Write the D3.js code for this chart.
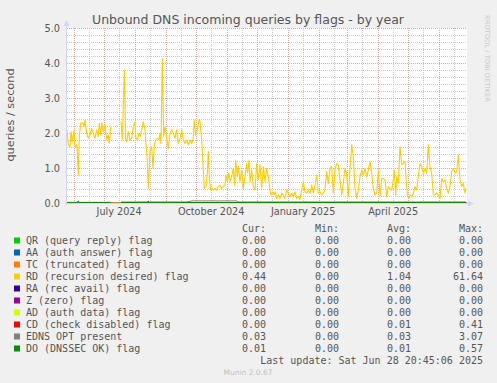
<!DOCTYPE html>
<html>
<head>
<meta charset="utf-8">
<script src="https://cdn.jsdelivr.net/npm/d3@7"></script>
<style>
  body { margin: 0; background: #f0f0f0; }
  svg { display: block; }
</style>
</head>
<body>
<svg id="chart" width="497" height="383"></svg>
<script>
// Time range of the graph (munin "by year" = last 400 days)
const endTime = new Date(Date.UTC(2025, 5, 28, 20, 45, 6));
const rangeDays = 400;

// Legend rows, in munin draw order
const seriesNames = ["QR (query reply) flag", "AA (auth answer) flag", "TC (truncated) flag",
  "RD (recursion desired) flag", "RA (rec avail) flag", "Z (zero) flag", "AD (auth data) flag",
  "CD (check disabled) flag", "EDNS OPT present", "DO (DNSSEC OK) flag"];
const seriesColors = ["#00CC00", "#0066B3", "#FF8000", "#FFCC00", "#330099",
  "#990099", "#CCFF00", "#FF0000", "#808080", "#008F00"];
const curValues = ["0.00", "0.00", "0.00", "0.44", "0.00", "0.00", "0.00", "0.00", "0.03", "0.01"];
const minValues = ["0.00", "0.00", "0.00", "0.00", "0.00", "0.00", "0.00", "0.00", "0.00", "0.00"];
const avgValues = ["0.00", "0.00", "0.00", "1.04", "0.00", "0.00", "0.00", "0.01", "0.03", "0.01"];
const maxValues = ["0.00", "0.00", "0.00", "61.64", "0.00", "0.00", "0.00", "0.41", "3.07", "0.57"];

// RD flag: day offset from graph start and queries/second (null = no data)
const rdDay = [0, 1.3, 3, 4, 5.3, 7, 8, 9.7, 10.3, 11.3, 12.3, 13.7, 15.7, 17, 18, 19.7, 21.3, 23, 24.7, 26.3,
  28, 29.7, 31.3, 32.3, 33.7, 34.7, 36.3, 38, 39.7, 41.3, 42.3, 43.7, 48, 54, 55.3, 57.3, 58.7, 59.7, 61.3, 63,
  64.7, 66.3, 67.7, 69, 70.3, 72, 73.3, 74.7, 76.3, 78, 79, 80.3, 81.3, 83, 84.7, 86, 87.3, 89, 90.7, 92,
  93, 94, 95.3, 96.7, 98, 99.7, 101.3, 103, 104.7, 106.3, 108, 109.7, 111.3, 113, 114.7, 116.3, 118, 119.7, 121.3, 123,
  124.7, 126.3, 127.3, 128.7, 130.3, 132, 133, 134.7, 136.3, 137.3, 139, 140.3, 141.3, 142.3, 143.7, 145, 146.3, 148, 149.7, 151.3,
  153, 154.7, 156.3, 158, 159, 160.3, 161.7, 163, 164.7, 166.3, 167.7, 168.7, 170.3, 171.3, 173, 174.7, 176.3, 178, 179.7, 180.7,
  182, 183, 184.7, 186.3, 188, 189.7, 191.3, 193, 194.7, 196.3, 198, 199.7, 201.3, 203, 204, 205.7, 207, 208.3, 209.7, 211.3,
  213, 214.7, 216.3, 218, 219.7, 221.3, 223, 224.7, 226.3, 228, 229.7, 231.3, 233, 234.7, 236.3, 238, 239.7, 241.3, 243, 244.7,
  246.3, 248, 249.7, 251.3, 253, 254.7, 256.3, 258, 259.7, 261.3, 263, 264.7, 266.3, 268, 269.7, 271.3, 273, 274.7, 276.3, 278,
  279.7, 281.3, 283, 284.7, 286.3, 288, 289.7, 291.3, 293, 294.7, 296.3, 298, 299.7, 301.3, 303, 304.7, 306.3, 308, 309.7, 311.3,
  313, 314.7, 316.3, 318, 319.7, 321.3, 323, 324.7, 326.3, 327.3, 328.7, 329.7, 331.3, 333, 334.7, 336.3, 338, 339.7, 340.7, 342,
  343, 344.7, 346.3, 348, 349.7, 351.3, 353, 354.7, 356.3, 358, 359.7, 361.3, 363, 364.7, 366.3, 368, 369.7, 371.3, 373, 374.7,
  376.3, 378, 379.7, 381.3, 383, 384.7, 386.3, 388, 389.7, 391.3, 393, 394.7, 396.3, 398, 399];
const rdValue = [2.09, 1.66, 1.61, 2.04, 1.75, 2.09, 1.61, 1.66, 1.51, 0.80, 1.90, 2.28, 2.30, 2.18, 2.37, 1.99, 1.85, 1.94, 2.13, 1.99,
  1.85, 2.09, 1.90, 2.28, 1.94, 2.30, 2.04, 2.23, 1.80, 1.94, 1.70, 2.18, null, 2.32, 1.80, 3.80, 1.80, 1.75, 2.04, 1.80,
  1.85, 2.18, 2.32, 1.85, 1.80, 1.99, 1.90, 2.09, 2.32, 2.09, 1.66, 1.23, 0.42, 1.51, 1.61, 0.99, 1.66, 1.82, 1.84, 1.80,
  1.99, 1.70, 4.13, 1.90, 2.18, 1.85, 1.56, 1.99, 2.09, 1.99, 1.85, 2.09, 1.70, 1.85, 2.09, 1.80, 1.70, 1.80, 1.66, 1.80,
  1.70, 1.85, 2.37, 1.94, 2.09, 2.37, 2.32, 1.80, 0.94, 0.42, 0.47, 0.85, 1.47, 0.75, 0.37, 0.42, 0.37, 0.42, 0.37, 0.47,
  0.51, 0.42, 0.47, 0.51, 0.80, 0.61, 0.85, 0.61, 0.75, 0.99, 0.51, 1.23, 0.75, 1.04, 0.61, 0.94, 0.42, 0.75, 1.13, 0.85,
  1.23, 0.61, 0.94, 0.47, 0.37, 1.13, 0.66, 1.09, 0.42, 1.04, 0.61, 0.99, 0.75, 0.37, 0.23, 0.32, 0.23, 0.32, 0.13, 0.23,
  0.13, 0.28, 0.23, 0.13, 0.37, 0.28, 0.18, 0.28, 0.18, 0.32, 0.13, 0.18, 0.10, 0.37, 0.61, 0.32, 0.28, 0.37, 0.28, 0.51,
  0.28, 0.51, 0.80, 0.28, 0.32, 0.23, 0.28, 0.37, 0.90, 0.56, 0.99, 1.04, 0.28, 0.94, 1.13, 1.09, 0.66, 0.23, 0.56, 0.99,
  0.80, 0.18, 0.99, 1.66, 1.32, 0.42, 0.13, 0.37, 0.75, 0.94, 0.80, 0.99, 0.75, 0.94, 1.18, 0.85, 0.42, 0.23, 0.28, 0.94,
  0.18, 0.70, 0.70, 0.66, 0.18, 0.47, 0.42, 0.37, 0.66, 0.94, 0.23, 0.75, 0.56, 1.61, 1.09, 1.13, 1.18, 0.47, 0.18, 0.13,
  0.23, 0.18, 0.28, 0.47, 0.37, 0.75, 1.13, 1.04, 0.85, 0.99, 0.85, 1.66, 1.04, 0.85, 0.23, 0.23, 0.28, 0.23, 0.13, 0.70,
  0.61, 0.66, 0.42, 0.28, 0.47, 0.90, 0.99, 0.85, 0.90, 1.37, 0.66, 0.47, 0.56, 0.28, 0.42];

// EDNS OPT present
const ednsDay = [0, 20, 43.7, 48, 54, 90, 120, 125, 140, 145, 170, 171, 250, 320, 399];
const ednsValue = [0.02, 0.02, 0.02, null, 0.03, 0.03, 0.03, 0.06, 0.06, 0.06, 0.06, 0.03, 0.03, 0.03, 0.03];

// DO flag
const doDay = [0, 10.5, 11.3, 12, 43.7, 48, 54, 80.5, 81.3, 82, 399];
const doValue = [0.01, 0.01, 0.06, 0.01, 0.01, null, 0.01, 0.01, 0.06, 0.01, 0.01];

// CD flag
const cdDay = [0, 43.7, 48, 54, 399];
const cdValue = [0.01, 0.01, null, 0.01, 0.01];

// Y axis tick labels
const yTicks = [0, 1, 2, 3, 4, 5];

// Layout
let margin = { top: 28, left: 67, right: 30, bottom: 180 },
    width = 400,
    height = 175;

let svg = d3.select("#chart");
let startTime = d3.utcDay.offset(endTime, -rangeDays);

// Scales
let x = d3.scaleUtc().domain([startTime, endTime]).range([margin.left, margin.left + width]);
let y = d3.scaleLinear().domain([0, 5]).range([margin.top + height, margin.top]);

// turns a day offset into a date
function dayToDate(d) {
    return new Date(startTime.getTime() + d * 86400000);
}

function toPoints(days, values) {
    return days.map((d, i) => ({ t: dayToDate(d), v: values[i] }));
}

// Canvas
svg.append("rect")
    .attr("x", margin.left)
    .attr("y", margin.top)
    .attr("width", width)
    .attr("height", height)
    .attr("fill", "#ffffff");

// Title
svg.append("text")
    .attr("x", 248)
    .attr("y", 23.5)
    .attr("text-anchor", "middle")
    .style("font-family", "DejaVu Sans")
    .style("font-size", "12.5px")
    .style("fill", "#555")
    .text("Unbound DNS incoming queries by flags - by year");

// Grid lines, dotted
let grid = svg.append("g");
let minorColor = "#c8c8c8", majorColor = "#e3a3a3";

// horizontal helper
function hLines(values, color) {
    grid.selectAll(null)
        .data(values)
        .enter()
        .append("line")
        .attr("x1", margin.left)
        .attr("x2", margin.left + width)
        .attr("y1", d => Math.round(y(d)) + 0.5)
        .attr("y2", d => Math.round(y(d)) + 0.5)
        .attr("stroke", color)
        .attr("stroke-dasharray", "1,1");
}

// vertical helper
function vLines(dates, color) {
    grid.selectAll(null)
        .data(dates)
        .enter()
        .append("line")
        .attr("x1", d => Math.round(x(d)) + 0.5)
        .attr("x2", d => Math.round(x(d)) + 0.5)
        .attr("y1", margin.top)
        .attr("y2", margin.top + height)
        .attr("stroke", color)
        .attr("stroke-dasharray", "1,1");
}

let months = d3.utcMonth.range(startTime, endTime);
let midMonths = d3.utcMonth.range(d3.utcMonth.offset(startTime, -1), endTime)
    .map(m => d3.utcDay.offset(m, 15))
    .filter(m => m > startTime && m < endTime);

hLines(d3.range(0.2, 5, 0.2).filter(v => Math.abs(v - Math.round(v)) > 0.01), minorColor);
vLines(midMonths, minorColor);
hLines(yTicks, majorColor);
vLines(months, majorColor);

// Y tick labels
svg.selectAll(".ylab")
    .data(yTicks)
    .enter()
    .append("text")
    .attr("x", 60)
    .attr("y", d => y(d) + 3.5)
    .attr("text-anchor", "end")
    .style("font-family", "DejaVu Sans")
    .style("font-size", "9.7px")
    .style("fill", "#555")
    .text(d => d.toFixed(1));

// X tick labels, every 3 months, centred half a month after the tick
let quarterMonths = months.filter(m => m.getUTCMonth() % 3 === 0);
svg.selectAll(".xlab")
    .data(quarterMonths)
    .enter()
    .append("text")
    .attr("x", d => x(d3.utcDay.offset(d, 15)))
    .attr("y", 215)
    .attr("text-anchor", "middle")
    .style("font-family", "DejaVu Sans")
    .style("font-size", "9.7px")
    .style("fill", "#555")
    .text(d => d3.utcFormat("%B %Y")(d));

// Y axis title
svg.append("text")
    .attr("transform", "translate(14,115) rotate(-90)")
    .attr("text-anchor", "middle")
    .style("font-family", "DejaVu Sans")
    .style("font-size", "11.3px")
    .style("fill", "#555")
    .text("queries / second");

// Watermark
svg.append("text")
    .attr("transform", "translate(485,15) rotate(90)")
    .style("font-family", "DejaVu Sans")
    .style("font-size", "6.75px")
    .style("fill", "#c8c8c8")
    .text("RRDTOOL / TOBI OETIKER");

// Lines
let line = d3.line()
    .defined(d => d.v !== null)
    .x(d => x(d.t))
    .y(d => y(d.v));

// all-zero series sit on the baseline
let zeroPoints = toPoints([0, rangeDays], [0, 0]);
[0, 1, 2, 4, 5, 6].forEach(i => {
    svg.append("path")
        .attr("d", line(zeroPoints))
        .attr("fill", "none")
        .attr("stroke", seriesColors[i])
        .attr("stroke-width", 1);
});

let drawn = [[3, rdDay, rdValue], [7, cdDay, cdValue], [8, ednsDay, ednsValue], [9, doDay, doValue]];
drawn.forEach(s => {
    svg.append("path")
        .attr("d", line(toPoints(s[1], s[2])))
        .attr("fill", "none")
        .attr("stroke", seriesColors[s[0]])
        .attr("stroke-width", s[0] === 3 ? 1.1 : 1)
        .attr("stroke-linejoin", "round");
});

// Axes with arrows
let axisColor = "#cfd6f8";
svg.append("line")
    .attr("x1", margin.left - 0.5).attr("x2", margin.left - 0.5)
    .attr("y1", margin.top + height + 2).attr("y2", margin.top - 4)
    .attr("stroke", axisColor);
svg.append("line")
    .attr("x1", margin.left - 2).attr("x2", margin.left + width + 4)
    .attr("y1", margin.top + height + 0.5).attr("y2", margin.top + height + 0.5)
    .attr("stroke", axisColor);
svg.append("path")
    .attr("d", "M" + (margin.left - 3.5) + "," + (margin.top - 2) + "L" + (margin.left + 2.5) + "," + (margin.top - 2) + "L" + (margin.left - 0.5) + "," + (margin.top - 8) + "Z")
    .attr("fill", axisColor);
svg.append("path")
    .attr("d", "M" + (margin.left + width + 1) + "," + (margin.top + height - 2.5) + "L" + (margin.left + width + 1) + "," + (margin.top + height + 3.5) + "L" + (margin.left + width + 7) + "," + (margin.top + height + 0.5) + "Z")
    .attr("fill", axisColor);

// Legend
let legend = svg.append("g")
    .style("font-family", "DejaVu Sans Mono")
    .style("font-size", "10px")
    .style("fill", "#555");
let colX = [266, 339, 411, 483];
["Cur:", "Min:", "Avg:", "Max:"].forEach((h, i) => {
    legend.append("text")
        .attr("x", colX[i])
        .attr("y", 231.5)
        .attr("text-anchor", "end")
        .text(h);
});

seriesNames.forEach((name, i) => {
    let rowY = 240 + i * 12;
    legend.append("rect")
        .attr("x", 14)
        .attr("y", rowY - 2.5)
        .attr("width", 6)
        .attr("height", 6)
        .attr("fill", seriesColors[i]);
    legend.append("text")
        .attr("x", 26)
        .attr("y", rowY + 3.5)
        .text(name);
    [curValues[i], minValues[i], avgValues[i], maxValues[i]].forEach((v, j) => {
        legend.append("text")
            .attr("x", colX[j])
            .attr("y", rowY + 3.5)
            .attr("text-anchor", "end")
            .text(v);
    });
});

legend.append("text")
    .attr("x", 483)
    .attr("y", 363.5)
    .attr("text-anchor", "end")
    .text("Last update: Sat Jun 28 20:45:06 2025");

// Munin version
svg.append("text")
    .attr("x", 248)
    .attr("y", 375)
    .attr("text-anchor", "middle")
    .style("font-family", "DejaVu Sans")
    .style("font-size", "7.5px")
    .style("fill", "#c0c0c0")
    .text("Munin 2.0.67");
</script>
</body>
</html>
